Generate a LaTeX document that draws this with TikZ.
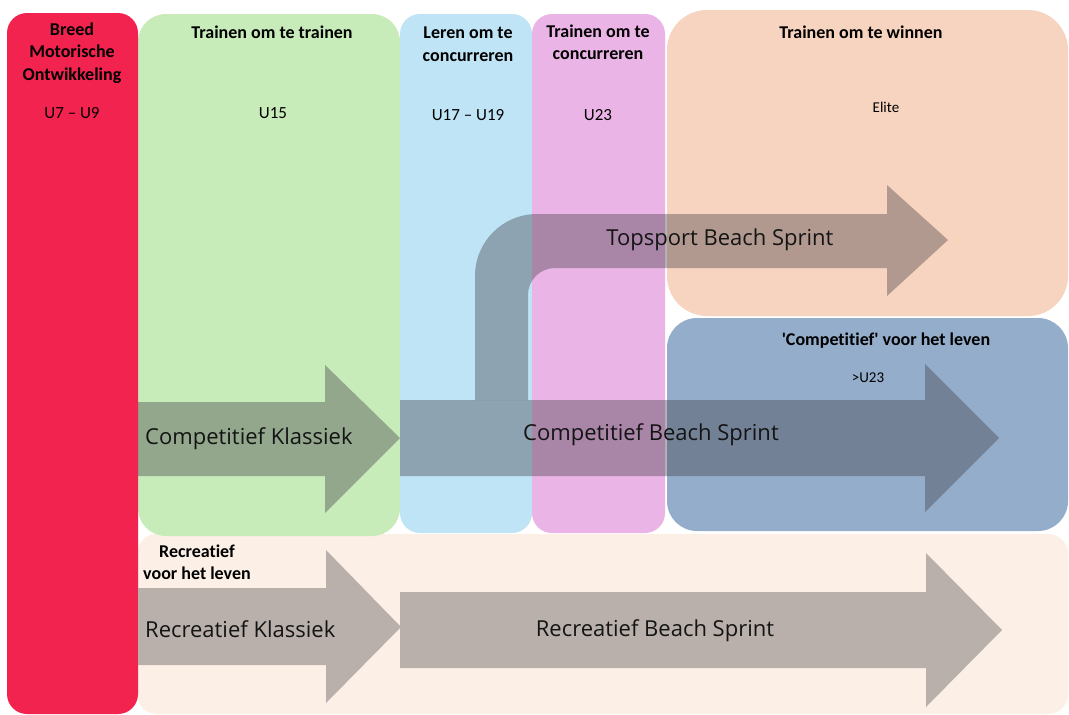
\documentclass[tikz,border=0pt]{standalone}
\usepackage{fontspec}
\setmainfont{Carlito}[Ligatures={TeX,NoCommon}]
\newfontfamily\arrowfont{Open Sans}
\definecolor{zred}{HTML}{F3234F}
\definecolor{zgreen}{HTML}{C8EBBA}
\definecolor{zblue}{HTML}{BFE4F5}
\definecolor{zpink}{HTML}{EBB4E6}
\definecolor{zpeach}{HTML}{F7D4BF}
\definecolor{zsteel}{HTML}{93ADCB}
\definecolor{zcream}{HTML}{FCEFE6}
\definecolor{arrowdark}{HTML}{3F3A44}
\definecolor{recgray}{HTML}{B9B0AB}
\tikzset{
  zone/.style={rounded corners=#1},
  head/.style={font=\bfseries\fontsize{18}{22.5}\selectfont, align=center, text=black, inner sep=0pt},
  sub/.style={font=\fontsize{17}{20}\selectfont, text=black, inner sep=0pt},
  small/.style={font=\fontsize{15}{18}\selectfont, text=black, inner sep=0pt},
  lbl/.style={font=\arrowfont\fontsize{22}{26}\selectfont, text=black!92, inner sep=0pt},
  comparrow/.style={fill=arrowdark, fill opacity=0.38},
  recarrow/.style={fill=recgray},
}
\begin{document}
\begin{tikzpicture}[x=1pt,y=-1pt]
\useasboundingbox (0,0) rectangle (1069,715);
\fill[white] (0,0) rectangle (1069,715);
% zones
\fill[zcream, zone=20] (137,534) rectangle (1068,714);
\fill[zgreen, zone=28] (138,14) rectangle (400,536);
\fill[zblue, zone=20] (400,14) rectangle (532,533);
\fill[zpink, zone=20] (532,14) rectangle (665,533);
\fill[zpeach, zone=40] (667,10) rectangle (1068,316);
\fill[zsteel, zone=30] (667,318) rectangle (1068,531);
\fill[zred, zone=20] (7,13) rectangle (138,714);
% competitive arrows
\fill[comparrow] (138,402) -- (325,402) -- (325,365) -- (400,438) -- (325,513) -- (325,476) -- (138,476) -- cycle;
\fill[comparrow] (400,400) -- (925,400) -- (925,364) -- (999,438) -- (925,512) -- (925,476) -- (400,476) -- cycle;
\fill[comparrow] (475,400) -- (475,276) arc[start angle=180, end angle=270, radius=62] -- (887,214) -- (887,185) -- (948,240) -- (887,296) -- (887,268) -- (555,268) arc[start angle=270, end angle=180, radius=27] -- (528,400) -- cycle;
% recreational arrows
\fill[recarrow] (138,588) -- (326,588) -- (326,550) -- (401,627) -- (326,703) -- (326,665) -- (138,665) -- cycle;
\fill[recarrow] (400,592) -- (926,592) -- (926,553) -- (1002,630) -- (926,707) -- (926,668) -- (400,668) -- cycle;
% headings
\node[head] (breed) at (72,53) {Breed\\Motorische\\Ontwikkeling};
\node[sub] (u7) at (72,113) {U7 – U9};
\node[head] (trtr) at (272,32) {Trainen om te trainen};
\node[sub] (u15) at (273,113) {U15};
\node[head] (leren) at (468,44) {Leren om te\\concurreren};
\node[sub] (u17) at (468,115) {U17 – U19};
\node[head] (trconc) at (598,42) {Trainen om te\\concurreren};
\node[sub] (u23) at (598,115) {U23};
\node[head] (trwin) at (861,32) {Trainen om te winnen};
\node[small] (elite) at (886,107) {Elite};
\node[head] (complife) at (886,341) {\textquotesingle Competitief\textquotesingle{} voor het leven};
\node[small] (gtu23) at (868,378) {>U23};
\node[head] (reclife) at (197,562) {Recreatief\\voor het leven};
% arrow labels
\node[lbl] (topsport) at (720,240) {Topsport Beach Sprint};
\node[lbl, anchor=west] (compkl) at (145,439) {Competitief Klassiek};
\node[lbl] (compbs) at (651,435) {Competitief Beach Sprint};
\node[lbl, anchor=west] (reckl) at (145,629) {Recreatief Klassiek};
\node[lbl] (recbs) at (655,631) {Recreatief Beach Sprint};
\end{tikzpicture}
\end{document}
